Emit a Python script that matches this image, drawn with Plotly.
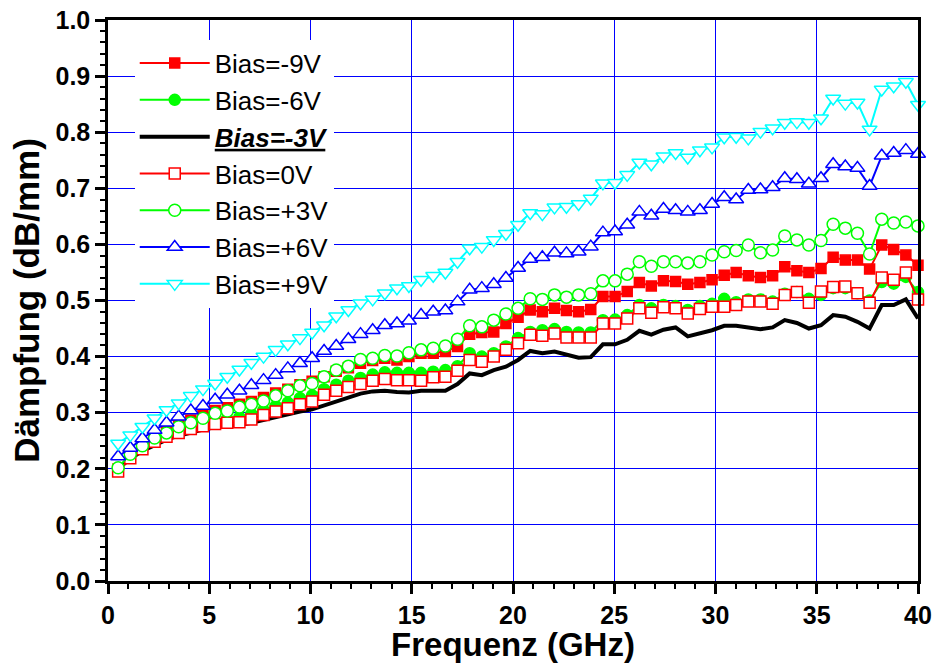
import plotly.graph_objects as go

# Frequency grid (GHz)
freq = [0.50, 1.10, 1.70, 2.30, 2.89, 3.49, 4.09, 4.69, 5.29, 5.89,
        6.49, 7.08, 7.68, 8.28, 8.88, 9.48, 10.08, 10.67, 11.27, 11.87,
        12.47, 13.07, 13.67, 14.27, 14.86, 15.46, 16.06, 16.66, 17.26, 17.86,
        18.46, 19.05, 19.65, 20.25, 20.85, 21.45, 22.05, 22.64, 23.24, 23.84,
        24.44, 25.04, 25.64, 26.24, 26.83, 27.43, 28.03, 28.63, 29.23, 29.83,
        30.43, 31.02, 31.62, 32.22, 32.82, 33.42, 34.02, 34.61, 35.21, 35.81,
        36.41, 37.01, 37.61, 38.21, 38.80, 39.40, 40.00]

bias_m9 = [0.20, 0.226, 0.243, 0.258, 0.268, 0.279, 0.287, 0.295, 0.304, 0.309,
           0.315, 0.32, 0.327, 0.335, 0.342, 0.35, 0.356, 0.364, 0.374, 0.38,
           0.388, 0.393, 0.397, 0.394, 0.40, 0.406, 0.406, 0.409, 0.418, 0.44,
           0.443, 0.444, 0.459, 0.47, 0.483, 0.48, 0.486, 0.482, 0.48, 0.484,
           0.507, 0.507, 0.516, 0.532, 0.526, 0.535, 0.534, 0.529, 0.532, 0.537,
           0.545, 0.55, 0.544, 0.541, 0.544, 0.56, 0.553, 0.55, 0.557, 0.577,
           0.572, 0.572, 0.556, 0.599, 0.591, 0.581, 0.563]

bias_m6 = [0.20, 0.224, 0.24, 0.252, 0.262, 0.27, 0.277, 0.282, 0.286, 0.289,
           0.292, 0.298, 0.305, 0.312, 0.318, 0.326, 0.331, 0.342, 0.35, 0.357,
           0.362, 0.368, 0.372, 0.371, 0.371, 0.371, 0.373, 0.376, 0.383, 0.406,
           0.40, 0.406, 0.418, 0.433, 0.444, 0.447, 0.449, 0.444, 0.443, 0.443,
           0.465, 0.466, 0.474, 0.492, 0.486, 0.492, 0.49, 0.483, 0.49, 0.494,
           0.503, 0.497, 0.502, 0.502, 0.498, 0.512, 0.515, 0.503, 0.51, 0.522,
           0.522, 0.513, 0.50, 0.533, 0.53, 0.542, 0.515]

bias_m3 = [0.20, 0.218, 0.232, 0.243, 0.252, 0.259, 0.265, 0.27, 0.274, 0.276,
           0.278, 0.282, 0.287, 0.293, 0.298, 0.302, 0.306, 0.313, 0.32, 0.328,
           0.334, 0.338, 0.339, 0.337, 0.336, 0.339, 0.339, 0.339, 0.351, 0.37,
           0.367, 0.376, 0.382, 0.394, 0.41, 0.406, 0.409, 0.403, 0.398, 0.399,
           0.422, 0.422, 0.43, 0.446, 0.439, 0.448, 0.452, 0.436, 0.441, 0.447,
           0.455, 0.455, 0.452, 0.449, 0.452, 0.465, 0.46, 0.45, 0.456, 0.474,
           0.471, 0.462, 0.45, 0.492, 0.492, 0.502, 0.468]

bias_0 = [0.195, 0.219, 0.235, 0.248, 0.257, 0.264, 0.271, 0.276, 0.28, 0.282,
          0.283, 0.288, 0.296, 0.302, 0.308, 0.315, 0.32, 0.332, 0.339, 0.346,
          0.351, 0.357, 0.36, 0.358, 0.358, 0.357, 0.363, 0.364, 0.375, 0.394,
          0.391, 0.40, 0.412, 0.424, 0.439, 0.437, 0.441, 0.434, 0.434, 0.434,
          0.459, 0.459, 0.468, 0.486, 0.478, 0.488, 0.486, 0.477, 0.485, 0.489,
          0.489, 0.492, 0.498, 0.498, 0.494, 0.51, 0.515, 0.496, 0.516, 0.524,
          0.525, 0.513, 0.496, 0.541, 0.537, 0.55, 0.502]

bias_p3 = [0.202, 0.226, 0.241, 0.255, 0.264, 0.275, 0.282, 0.29, 0.299, 0.303,
           0.31, 0.315, 0.321, 0.33, 0.339, 0.348, 0.352, 0.364, 0.376, 0.383,
           0.395, 0.397, 0.402, 0.401, 0.407, 0.412, 0.415, 0.419, 0.431, 0.455,
           0.453, 0.465, 0.476, 0.486, 0.503, 0.502, 0.51, 0.506, 0.51, 0.512,
           0.535, 0.535, 0.547, 0.569, 0.561, 0.569, 0.569, 0.567, 0.569, 0.581,
           0.587, 0.589, 0.599, 0.585, 0.59, 0.615, 0.608, 0.599, 0.607, 0.636,
           0.629, 0.62, 0.583, 0.645, 0.638, 0.64, 0.633]

bias_p6 = [0.222, 0.237, 0.254, 0.269, 0.282, 0.293, 0.304, 0.312, 0.323, 0.332,
           0.339, 0.349, 0.358, 0.367, 0.379, 0.388, 0.397, 0.41, 0.419, 0.431,
           0.44, 0.447, 0.456, 0.459, 0.464, 0.474, 0.48, 0.482, 0.498, 0.519,
           0.522, 0.529, 0.54, 0.558, 0.574, 0.577, 0.585, 0.584, 0.587, 0.596,
           0.621, 0.623, 0.635, 0.658, 0.651, 0.663, 0.661, 0.658, 0.661, 0.672,
           0.684, 0.68, 0.697, 0.698, 0.702, 0.718, 0.716, 0.708, 0.718, 0.743,
           0.739, 0.736, 0.704, 0.758, 0.763, 0.768, 0.761]

bias_p9 = [0.245, 0.26, 0.275, 0.29, 0.305, 0.317, 0.33, 0.342, 0.352, 0.364,
           0.377, 0.389, 0.40, 0.412, 0.422, 0.433, 0.443, 0.456, 0.472, 0.483,
           0.495, 0.502, 0.513, 0.522, 0.526, 0.537, 0.544, 0.55, 0.569, 0.593,
           0.596, 0.608, 0.619, 0.635, 0.656, 0.654, 0.666, 0.667, 0.672, 0.682,
           0.709, 0.71, 0.724, 0.746, 0.743, 0.757, 0.763, 0.755, 0.768, 0.773,
           0.791, 0.792, 0.789, 0.801, 0.807, 0.817, 0.818, 0.817, 0.825, 0.86,
           0.851, 0.853, 0.805, 0.876, 0.882, 0.89, 0.849]

labels = ["Bias=-9V", "Bias=-6V", "<b><i><u>Bias=-3V</u></i></b>", "Bias=0V",
          "Bias=+3V", "Bias=+6V", "Bias=+9V"]

FONT = "Arial, Liberation Sans, sans-serif"

fig = go.Figure()

def add(y, name, color, symbol=None, fill=None, size=11, lw=2):
    if symbol is None:
        fig.add_trace(go.Scatter(x=freq, y=y, name=name, mode="lines",
                                 line=dict(color=color, width=lw), cliponaxis=False))
    else:
        fig.add_trace(go.Scatter(
            x=freq, y=y, name=name, mode="lines+markers",
            line=dict(color=color, width=lw),
            marker=dict(symbol=symbol, size=size, color=fill,
                        line=dict(color=color, width=1.5)),
            cliponaxis=False))

add(bias_m9, labels[0], "#FF0000", "square", "#FF0000", size=10)
add(bias_m6, labels[1], "#00FF00", "circle", "#00FF00", size=11)
add(bias_m3, labels[2], "#000000", None, lw=4)
add(bias_0, labels[3], "#FF0000", "square", "white", size=11)
add(bias_p3, labels[4], "#00FF00", "circle", "white", size=12)
add(bias_p6, labels[5], "#0000FF", "triangle-up", "white", size=13)
add(bias_p9, labels[6], "#00FFFF", "triangle-down", "white", size=13)

axis_common = dict(
    showline=True, linecolor="black", linewidth=2.5, mirror=True,
    ticks="outside", ticklen=10, tickwidth=2.5, tickcolor="black",
    showgrid=True, gridcolor="#0000FF", gridwidth=1, zeroline=False,
    automargin=False,
    tickfont=dict(family=FONT, size=25, color="black", weight="bold"),
)

fig.update_xaxes(range=[0, 40], dtick=5, tick0=0,
                 minor=dict(dtick=1, ticklen=5, tickwidth=2, tickcolor="black",
                            ticks="outside", showgrid=False),
                 title=dict(text="<b>Frequenz (GHz)</b>", standoff=12,
                            font=dict(family=FONT, size=33, color="black")),
                 **axis_common)
fig.update_yaxes(range=[0, 1.0], dtick=0.1, tick0=0, tickformat=".1f",
                 minor=dict(dtick=0.02, ticklen=5, tickwidth=2, tickcolor="black",
                            ticks="outside", showgrid=False),
                 title=dict(text="<b>Dämpfung (dB/mm)</b>", standoff=6,
                            font=dict(family=FONT, size=35, color="black")),
                 **axis_common)

fig.update_layout(
    width=933, height=663,
    margin=dict(l=108, r=15, t=20, b=82),
    paper_bgcolor="white", plot_bgcolor="white",
    showlegend=True,
    legend=dict(x=0.033, y=0.965, xanchor="left", yanchor="top",
                bgcolor="white", borderwidth=0, itemwidth=70,
                font=dict(family=FONT, size=26, color="black"),
                tracegroupgap=0),
)

fig.write_html("out.html")
